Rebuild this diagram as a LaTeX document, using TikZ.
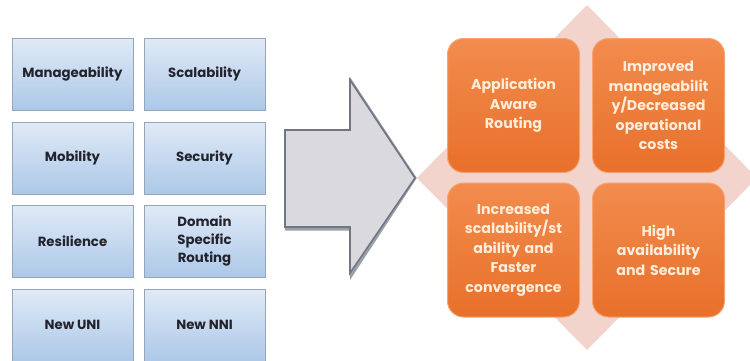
\documentclass[tikz,border=0pt]{standalone}
\usepackage{fontspec}
\setmainfont{Poppins}
\usetikzlibrary{shapes.geometric}
\definecolor{bluetop}{RGB}{224,234,246}
\definecolor{bluebot}{RGB}{172,200,232}
\definecolor{blueedge}{RGB}{150,165,185}
\definecolor{orgtop}{RGB}{242,140,78}
\definecolor{orgbot}{RGB}{232,112,42}
\definecolor{orgtext}{RGB}{255,236,218}
\definecolor{diamondpink}{RGB}{242,212,204}
\definecolor{arrowfill}{RGB}{218,218,222}
\definecolor{arrowedge}{RGB}{112,118,132}
\definecolor{txtdark}{RGB}{35,35,45}
\tikzset{
  feat/.style={draw=blueedge, line width=0.8pt, top color=bluetop, bottom color=bluebot,
    minimum width=121pt, minimum height=72pt, inner sep=2pt, align=center,
    font=\fontsize{13.3}{18}\selectfont\bfseries, text=txtdark},
  benefit/.style={draw=orgtop!80!white, line width=1pt, top color=orgtop, bottom color=orgbot,
    rounded corners=16pt, minimum width=132pt, minimum height=134pt, inner sep=3pt,
    align=center, text width=126pt, font=\fontsize{14.2}{19.5}\selectfont\bfseries, text=orgtext}
}
\begin{document}
\begin{tikzpicture}[x=1pt,y=-1pt]
\useasboundingbox (0,0) rectangle (750,360);
\clip (0,0) rectangle (750,360);
% left feature boxes
\node[feat] (man) at (72.5,74) {Manageability};
\node[feat] (sca) at (204.5,74) {Scalability};
\node[feat] (mob) at (72.5,158) {Mobility};
\node[feat] (sec) at (204.5,158) {Security};
\node[feat] (res) at (72.5,241) {Resilience};
\node[feat] (dom) at (204.5,241) {Domain\\Specific\\Routing};
\node[feat] (uni) at (72.5,325) {New UNI};
\node[feat] (nni) at (204.5,325) {New NNI};
% big arrow
\coordinate (tip) at (415,178);
\draw[arrowedge!70, line width=3pt, line join=miter, fill=arrowedge!60, xshift=1.5pt, yshift=-2pt]
  (285,130) -- (350,130) -- (350,80) -- (tip) -- (350,273) -- (350,227) -- (285,227) -- cycle;
\draw[arrowedge, line width=1.6pt, line join=miter, fill=arrowfill]
  (285,130) -- (350,130) -- (350,80) -- (tip) -- (350,273) -- (350,227) -- (285,227) -- cycle;
% diamond
\fill[diamondpink] (587,5) -- (757,178) -- (587,350) -- (417,178) -- cycle;
% benefit boxes
\node[benefit] (app) at (513.5,105.5) {Application\\Aware\\Routing};
\node[benefit] (imp) at (658.5,105.5) {Improved\\manageabilit\\y/Decreased\\operational\\costs};
\node[benefit] (inc) at (513.5,250) {Increased\\scalability/st\\ability and\\Faster\\convergence};
\node[benefit] (hig) at (658.5,250) {High\\availability\\and Secure};
\end{tikzpicture}
\end{document}
